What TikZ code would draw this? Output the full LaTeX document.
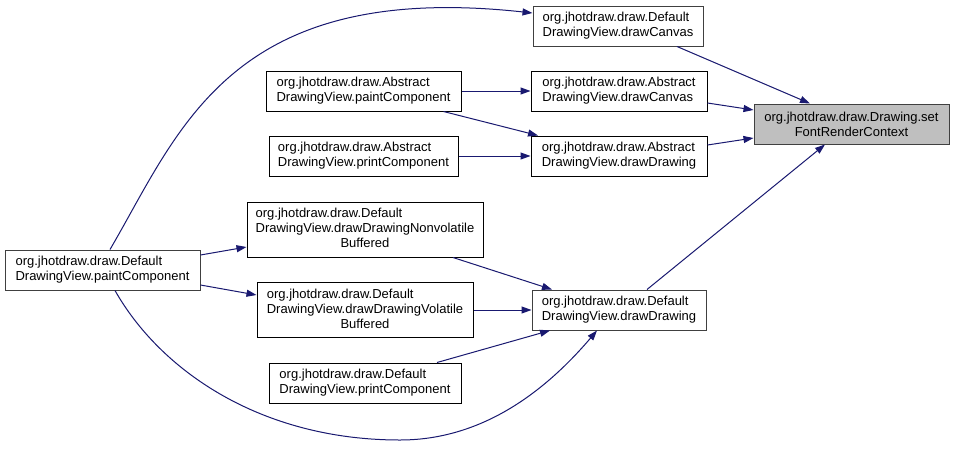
\documentclass[tikz,border=0pt]{standalone}
\usepackage{fontspec}
\setmainfont{Liberation Sans}
\usetikzlibrary{arrows.meta}
\definecolor{edgec}{HTML}{191970}
\definecolor{greyb}{HTML}{404040}
\definecolor{fillT}{HTML}{BFBFBF}
\newcommand\twol[2]{\begin{tabular}{@{}l@{}}#1\\#2\end{tabular}}
\newcommand\threel[3]{\begin{tabular}{@{}l@{}}#1\\#2\\\multicolumn{1}{@{}c@{}}{#3}\end{tabular}}
\tikzset{
  box/.style={draw=black, line width=1pt, fill=white, inner sep=0pt, minimum height=40pt,
    font=\fontsize{13}{15}\selectfont},
  gbox/.style={box, draw=greyb},
  edge/.style={draw=edgec, line width=1pt, -{Triangle[length=10pt,width=7pt]}}
}
\begin{document}
\begin{tikzpicture}[x=1pt,y=-1pt]
\useasboundingbox[fill=white] (0,0) rectangle (955,450);
% nodes
\node[gbox, fill=fillT, minimum width=195pt, align=center] (T) at (851.5,124) {org.jhotdraw.draw.Drawing.set\\FontRenderContext};
\node[gbox, minimum width=170pt] (DC) at (618,26) {\twol{org.jhotdraw.draw.Default}{DrawingView.drawCanvas}};
\node[box, minimum width=176pt] (AC) at (619,91) {\twol{org.jhotdraw.draw.Abstract}{DrawingView.drawCanvas}};
\node[box, minimum width=176pt] (AD) at (619,156) {\twol{org.jhotdraw.draw.Abstract}{DrawingView.drawDrawing}};
\node[box, minimum width=195pt] (AP) at (363.5,91) {\twol{org.jhotdraw.draw.Abstract}{DrawingView.paintComponent}};
\node[box, minimum width=189pt] (APr) at (363.5,156) {\twol{org.jhotdraw.draw.Abstract}{DrawingView.printComponent}};
\node[gbox, minimum width=195pt] (DP) at (102.5,270) {\twol{org.jhotdraw.draw.Default}{DrawingView.paintComponent}};
\node[box, minimum width=236pt, minimum height=55pt] (NB) at (365,229.5) {\threel{org.jhotdraw.draw.Default}{DrawingView.drawDrawingNonvolatile}{Buffered}};
\node[box, minimum width=216pt, minimum height=55pt] (VB) at (365,310) {\threel{org.jhotdraw.draw.Default}{DrawingView.drawDrawingVolatile}{Buffered}};
\node[box, minimum width=192pt] (DPr) at (365,383) {\twol{org.jhotdraw.draw.Default}{DrawingView.printComponent}};
\node[gbox, minimum width=174pt] (DD) at (619,310) {\twol{org.jhotdraw.draw.Default}{DrawingView.drawDrawing}};
% edges into target
\draw[edge] ([xshift=59pt]DC.south) -- ([xshift=-41.5pt]T.north);
\draw[edge] ([yshift=-12pt]AC.east) -- ([yshift=14pt]T.west);
\draw[edge] ([yshift=11pt]AD.east) -- ([yshift=-14pt]T.west);
\draw[edge] ([xshift=28pt]DD.north) -- ([xshift=-26.5pt]T.south);
% abstract callers
\draw[edge] (AP.east) -- (AC.west);
\draw[edge] ([xshift=80pt]AP.south) -- ([xshift=-81pt]AD.north);
\draw[edge] (APr.east) -- (AD.west);
% default paintComponent
\draw[edge] ([yshift=15pt]DP.east) -- ([yshift=-17.5pt]NB.west);
\draw[edge] ([yshift=-15pt]DP.east) -- ([yshift=15pt]VB.west);
\draw[edge] ([xshift=7.5pt]DP.north) .. controls (180,130) and (230,-20) .. ([yshift=13pt]DC.west);
\draw[edge] ([xshift=12.5pt]DP.south) .. controls (160,370) and (260,440) .. (400,440) .. controls (485,440) and (548,388) .. ([xshift=-22pt]DD.south);
% into default drawDrawing
\draw[edge] ([xshift=88pt]NB.south) -- ([xshift=-67pt]DD.north);
\draw[edge] (VB.east) -- (DD.west);
\draw[edge] ([xshift=72pt]DPr.north) -- ([xshift=-69pt]DD.south);
\end{tikzpicture}
\end{document}
